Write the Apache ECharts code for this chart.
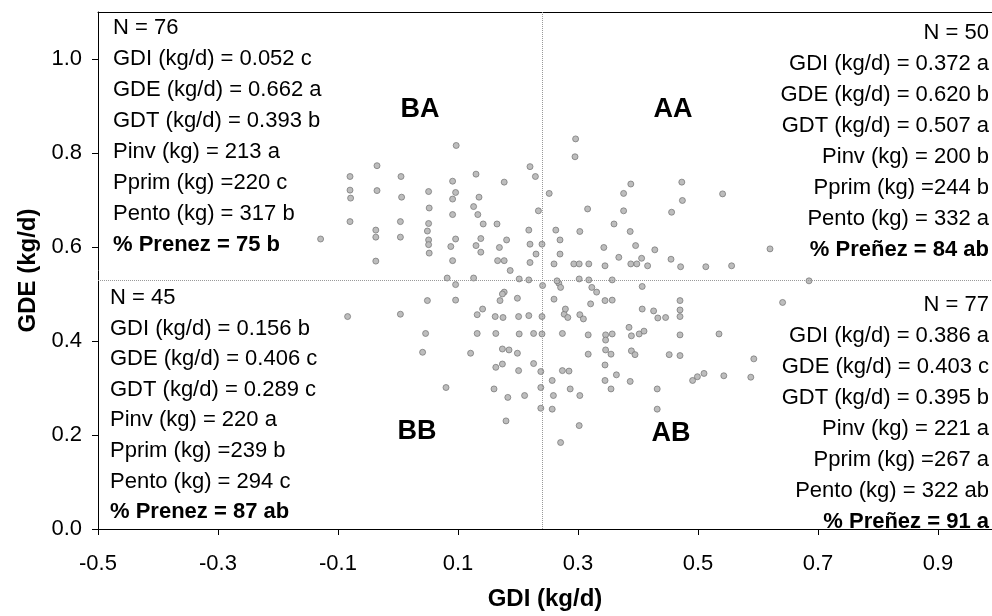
<!DOCTYPE html>
<html>
<head>
<meta charset="utf-8">
<script src="https://cdn.jsdelivr.net/npm/echarts@6/dist/echarts.min.js"></script>
<style>
  html, body { margin: 0; padding: 0; background: #fff; }
  #chart { width: 992px; height: 616px; }
</style>
</head>
<body>
<div id="chart"></div>
<script>
// GDI (kg/d) de cada animal
var gdi = [
  0.097, -0.035, -0.080, 0.005, 0.130, 0.220, 0.229, 0.091, 0.177, -0.080,
  -0.079, -0.035, 0.006, 0.051, 0.096, 0.091, 0.135, 0.252, 0.052, 0.126,
  0.091, 0.133, 0.234, -0.080, 0.004, 0.051, 0.142, 0.165, -0.129, -0.037,
  -0.037, 0.004, 0.049, 0.051, 0.051, 0.096, 0.088, 0.138, 0.130, 0.138,
  0.181, 0.169, 0.218, 0.220, 0.240, 0.230, 0.220, 0.263, 0.270, 0.270,
  0.260, 0.052, -0.037, 0.091, 0.166, 0.177, 0.187, 0.202, 0.218, 0.082,
  0.096, 0.126, 0.268, 0.177,
  0.296, 0.295, 0.388, 0.473, 0.376, 0.474, 0.541, 0.316, 0.376, 0.456,
  0.303, 0.360, 0.387, 0.343, 0.396, 0.368, 0.406, 0.428, 0.455, 0.620,
  0.293, 0.302, 0.318, 0.345, 0.388, 0.398, 0.416, 0.471, 0.513, 0.556,
  0.302, 0.318, 0.357, 0.265, 0.323, 0.331, 0.407, 0.685,
  -0.084, 0.004, 0.049, 0.096, 0.046, 0.041, 0.121, 0.080, 0.132, 0.141,
  0.132, 0.174, 0.170, 0.199, 0.162, 0.175, 0.201, 0.218, 0.240, 0.163,
  0.202, 0.226, 0.240, 0.174, 0.185, 0.199, 0.163, 0.174, 0.201, 0.226,
  0.238, 0.160, 0.183, 0.211, 0.238, 0.238, 0.257, 0.180, 0.257, 0.259,
  0.274, 0.271, 0.277, 0.274, 0.260, 0.271, 0.241,
  0.321, 0.345, 0.357, 0.407, 0.426, 0.433, 0.446, 0.470, 0.470, 0.470,
  0.279, 0.283, 0.303, 0.309, 0.641, 0.317, 0.346, 0.357, 0.346, 0.385,
  0.389, 0.402, 0.410, 0.470, 0.535, 0.317, 0.346, 0.355, 0.389, 0.395,
  0.452, 0.470, 0.593, 0.345, 0.285, 0.345, 0.355, 0.364, 0.387, 0.287,
  0.303, 0.432, 0.432, 0.491, 0.499, 0.510, 0.543, 0.588, 0.302
];
// GDE (kg/d) de cada animal
var gde = [
  0.816, 0.773, 0.750, 0.750, 0.755, 0.771, 0.750, 0.740, 0.738, 0.721,
  0.704, 0.720, 0.706, 0.718, 0.716, 0.702, 0.706, 0.714, 0.683, 0.686,
  0.669, 0.669, 0.677, 0.654, 0.654, 0.650, 0.649, 0.649, 0.617, 0.636,
  0.621, 0.621, 0.634, 0.615, 0.605, 0.617, 0.601, 0.618, 0.603, 0.589,
  0.615, 0.599, 0.636, 0.606, 0.606, 0.585, 0.567, 0.636, 0.615, 0.585,
  0.564, 0.587, 0.570, 0.571, 0.571, 0.571, 0.550, 0.532, 0.530, 0.534,
  0.520, 0.534, 0.523, 0.504,
  0.830, 0.792, 0.734, 0.738, 0.714, 0.699, 0.713, 0.681, 0.677, 0.674,
  0.633, 0.649, 0.633, 0.599, 0.603, 0.578, 0.576, 0.594, 0.574, 0.596,
  0.564, 0.564, 0.564, 0.560, 0.564, 0.564, 0.560, 0.558, 0.558, 0.560,
  0.532, 0.530, 0.530, 0.528, 0.514, 0.504, 0.516, 0.528,
  0.452, 0.457, 0.486, 0.487, 0.416, 0.376, 0.374, 0.301, 0.456, 0.468,
  0.416, 0.500, 0.486, 0.491, 0.452, 0.450, 0.452, 0.454, 0.452, 0.416,
  0.415, 0.416, 0.415, 0.383, 0.381, 0.374, 0.344, 0.351, 0.337, 0.352,
  0.335, 0.298, 0.280, 0.284, 0.301, 0.257, 0.255, 0.230, 0.316, 0.284,
  0.337, 0.184, 0.457, 0.416, 0.489, 0.514, 0.518,
  0.479, 0.486, 0.487, 0.468, 0.464, 0.449, 0.450, 0.486, 0.466, 0.452,
  0.468, 0.450, 0.456, 0.447, 0.482, 0.413, 0.413, 0.415, 0.402, 0.429,
  0.411, 0.415, 0.421, 0.413, 0.415, 0.372, 0.381, 0.372, 0.379, 0.371,
  0.371, 0.369, 0.362, 0.349, 0.336, 0.316, 0.298, 0.328, 0.314, 0.298,
  0.284, 0.298, 0.255, 0.316, 0.324, 0.331, 0.326, 0.323, 0.220
];
// limites de los cuadrantes
var corteGdi = 0.237;
var corteGde = 0.534;

// textos de cada cuadrante
var textoBA = ['N = 76', 'GDI (kg/d) = 0.052 c', 'GDE (kg/d) = 0.662 a', 'GDT (kg/d) = 0.393 b',
  'Pinv (kg) = 213 a', 'Pprim (kg) =220 c', 'Pento (kg) = 317 b', '% Prenez = 75 b'];
var textoBB = ['N = 45', 'GDI (kg/d) = 0.156 b', 'GDE (kg/d) = 0.406 c', 'GDT (kg/d) = 0.289 c',
  'Pinv (kg) = 220 a', 'Pprim (kg) =239 b', 'Pento (kg) = 294 c', '% Prenez = 87 ab'];
var textoAA = ['N = 50', 'GDI (kg/d) = 0.372 a', 'GDE (kg/d) = 0.620 b', 'GDT (kg/d) = 0.507 a',
  'Pinv (kg) = 200 b', 'Pprim (kg) =244 b', 'Pento (kg) = 332 a', '% Preñez = 84 ab'];
var textoAB = ['N = 77', 'GDI (kg/d) = 0.386 a', 'GDE (kg/d) = 0.403 c', 'GDT (kg/d) = 0.395 b',
  'Pinv (kg) = 221 a', 'Pprim (kg) =267 a', 'Pento (kg) = 322 ab', '% Preñez = 91 a'];

var fuente = '"Liberation Sans", Arial, sans-serif';

var puntos = [];
for (var i = 0; i < gdi.length; i++) {
  puntos.push([gdi[i], gde[i]]);
}

// arma un bloque de texto, la ultima linea en negrita
function bloque(lineas, x, y0, paso, alinear) {
  var els = [];
  for (var j = 0; j < lineas.length; j++) {
    els.push({
      type: 'text',
      x: x,
      y: y0 + j * paso,
      style: {
        text: lineas[j],
        font: (j == lineas.length - 1 ? 'bold ' : '') + '22px ' + fuente,
        fill: '#000',
        textAlign: alinear,
        textVerticalAlign: 'middle'
      }
    });
  }
  return els;
}

function rotulo(txt, x, y) {
  return {
    type: 'text', x: x, y: y,
    style: { text: txt, font: 'bold 27px ' + fuente, fill: '#000', textAlign: 'center', textVerticalAlign: 'middle' }
  };
}

var graficos = []
  .concat(bloque(textoBA, 113, 28, 31, 'left'))
  .concat(bloque(textoBB, 110, 298, 30.6, 'left'))
  .concat(bloque(textoAA, 989, 33, 31, 'right'))
  .concat(bloque(textoAB, 989, 305, 31, 'right'))
  .concat([rotulo('BA', 420, 110), rotulo('AA', 673, 110), rotulo('BB', 417, 432), rotulo('AB', 671, 434)]);

var chart = echarts.init(document.getElementById('chart'));
var option = {
  animation: false,
  backgroundColor: '#fff',
  grid: { left: 98, right: 0, top: 12, bottom: 86 },
  xAxis: [{
    type: 'value',
    min: -0.5,
    max: 0.99,
    interval: 0.2,
    name: 'GDI (kg/d)',
    nameLocation: 'middle',
    nameGap: 58,
    nameTextStyle: { fontFamily: fuente, fontSize: 24, fontWeight: 'bold', color: '#000' },
    axisLine: { show: true, onZero: false, lineStyle: { color: '#000', width: 1 } },
    axisTick: { show: true, inside: false, length: 6, lineStyle: { color: '#000' } },
    axisLabel: {
      fontFamily: fuente, fontSize: 22, color: '#000', margin: 24,
      showMaxLabel: false,
      formatter: function (v) { return v.toFixed(1); }
    },
    splitLine: { show: false }
  }, {
    type: 'value',
    position: 'top',
    min: -0.5,
    max: 0.99,
    axisLine: { show: true, onZero: false, lineStyle: { color: '#000', width: 1 } },
    axisTick: { show: false },
    axisLabel: { show: false },
    splitLine: { show: false }
  }],
  yAxis: {
    type: 'value',
    min: 0,
    max: 1.1,
    interval: 0.2,
    name: 'GDE (kg/d)',
    nameLocation: 'middle',
    nameGap: 58,
    nameTextStyle: { fontFamily: fuente, fontSize: 24, fontWeight: 'bold', color: '#000' },
    axisLine: { show: true, onZero: false, lineStyle: { color: '#000', width: 1 } },
    axisTick: { show: true, inside: false, length: 6, lineStyle: { color: '#000' } },
    axisLabel: {
      fontFamily: fuente, fontSize: 22, color: '#000', margin: 16,
      showMaxLabel: false,
      formatter: function (v) { return v.toFixed(1); }
    },
    splitLine: { show: false }
  },
  series: [{
    type: 'scatter',
    xAxisIndex: 0,
    data: puntos,
    symbol: 'circle',
    symbolSize: 6,
    itemStyle: { color: '#bdbdbd', borderColor: '#707070', borderWidth: 0.7, opacity: 1 },
    markLine: {
      silent: true,
      symbol: 'none',
      label: { show: false },
      lineStyle: { type: 'dotted', color: '#999', width: 1 },
      data: [{ xAxis: corteGdi }, { yAxis: corteGde }]
    }
  }],
  graphic: graficos
};
option && chart.setOption(option);
</script>
</body>
</html>
